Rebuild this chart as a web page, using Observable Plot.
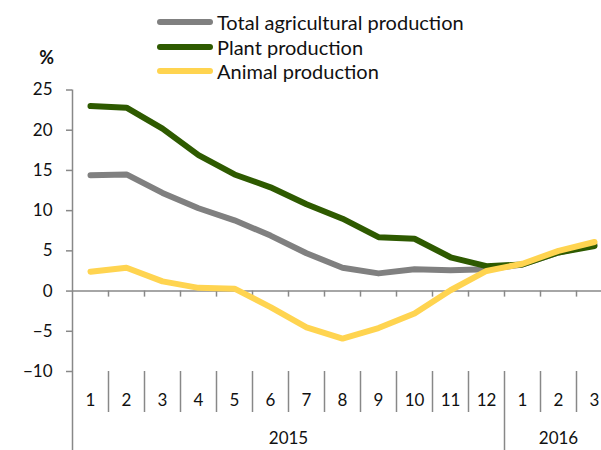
<!DOCTYPE html>
<html>
<head>
<meta charset="utf-8">
<script src="https://cdn.jsdelivr.net/npm/d3@7"></script>
<script src="https://cdn.jsdelivr.net/npm/@observablehq/plot@0.6"></script>
<style>
  html, body { margin: 0; padding: 0; background: #fff; }
  body { width: 601px; height: 450px; overflow: hidden; font-family: Lato, "Liberation Sans", sans-serif; }
  #wrap { position: relative; width: 601px; height: 450px; }
  #legend { position: absolute; left: 157px; top: 10px; font-size: 20px; color: #111; }
  .item { display: flex; align-items: center; height: 24.5px; }
  .sw { width: 56px; height: 6px; border-radius: 3px; margin-right: 4px; flex: none; }
</style>
</head>
<body>
<div id="wrap">
  <div id="legend"></div>
</div>
<script>
const months = ["1","2","3","4","5","6","7","8","9","10","11","12","1","2","3"];
const years = ["2015","2016"];
const yearSpans = [[0, 12], [12, 15]];
const seriesNames = ["Total agricultural production", "Plant production", "Animal production"];
const seriesColors = ["#808080", "#2E5A00", "#FFD450"];
const total  = [14.4, 14.5, 12.2, 10.3, 8.8, 6.9, 4.7, 2.9, 2.2, 2.7, 2.6, 2.7, 3.3, 4.8, 5.8];
const plant  = [23.0, 22.8, 20.2, 16.9, 14.5, 12.9, 10.8, 9.0, 6.7, 6.5, 4.2, 3.1, 3.3, 4.8, 5.6];
const animal = [2.4, 2.9, 1.2, 0.4, 0.3, -2.0, -4.5, -5.9, -4.6, -2.8, 0.1, 2.5, 3.4, 5.0, 6.1];
const yTicks = [-10, -5, 0, 5, 10, 15, 20, 25];

const allSeries = [total, plant, animal];
const rows = [];
allSeries.forEach((vals, s) => vals.forEach((v, i) => rows.push({series: seriesNames[s], i: i + 0.5, v})));

const bounds = d3.range(1, months.length + 1);
const catBounds = d3.range(0, months.length + 1).filter(b => b !== 0 && b !== 12);
const yearBounds = [0, 12];
const monthLabels = months.map((m, i) => ({i: i + 0.5, m}));
const yearLabels = years.map((y, k) => ({x: (yearSpans[k][0] + yearSpans[k][1]) / 2, y}));

const font = "Lato, 'Liberation Sans', sans-serif";

const chart = Plot.plot({
  width: 601,
  height: 450,
  marginLeft: 72,
  marginRight: 0,
  marginTop: 89.5,
  marginBottom: 79,
  style: {fontFamily: font, fontSize: "17px", color: "#111", background: "#fff"},
  x: {type: "linear", domain: [0, 15], range: [72, 612], axis: null},
  y: {domain: [-10, 25], range: [371, 89.5], axis: null},
  color: {domain: seriesNames, range: seriesColors},
  marks: [
    Plot.ruleY([0], {stroke: "#888", strokeWidth: 1.5}),
    Plot.ruleX(bounds, {x: d => d, y1: 0, y2: -0.75, stroke: "#888", strokeWidth: 1.5}),
    Plot.ruleX(catBounds, {x: d => d, y1: -10, y2: -15.1, stroke: "#888", strokeWidth: 1.5}),
    Plot.ruleX(yearBounds, {x: d => d, y1: d => d === 0 ? 25 : -10, y2: -20, stroke: "#888", strokeWidth: 1.5}),
    Plot.axisY({ticks: yTicks, tickSize: 6, tickPadding: 14, stroke: "#888", strokeWidth: 1.5, fontSize: 17, label: null, anchor: "left", color: "#111"}),
    Plot.text(["%"], {frameAnchor: "top-left", textAnchor: "middle", lineAnchor: "middle", dx: -26, dy: -31.5, fontWeight: "bold", fontSize: 18, fill: "#111"}),
    Plot.line(rows, {x: "i", y: "v", z: "series", stroke: "series", strokeWidth: 6, strokeLinejoin: "round", strokeLinecap: "round"}),
    Plot.text(monthLabels, {x: "i", y: -10, dy: 29, text: "m", fontSize: 17, fill: "#111"}),
    Plot.text(yearLabels, {x: "x", y: -10, dy: 67, text: "y", fontSize: 17, fill: "#111"})
  ]
});
document.getElementById("wrap").prepend(chart);

const legend = d3.select("#legend");
seriesNames.forEach((n, k) => {
  const it = legend.append("div").attr("class", "item");
  it.append("div").attr("class", "sw").style("background", seriesColors[k]);
  it.append("span").text(n);
});
</script>
</body>
</html>
